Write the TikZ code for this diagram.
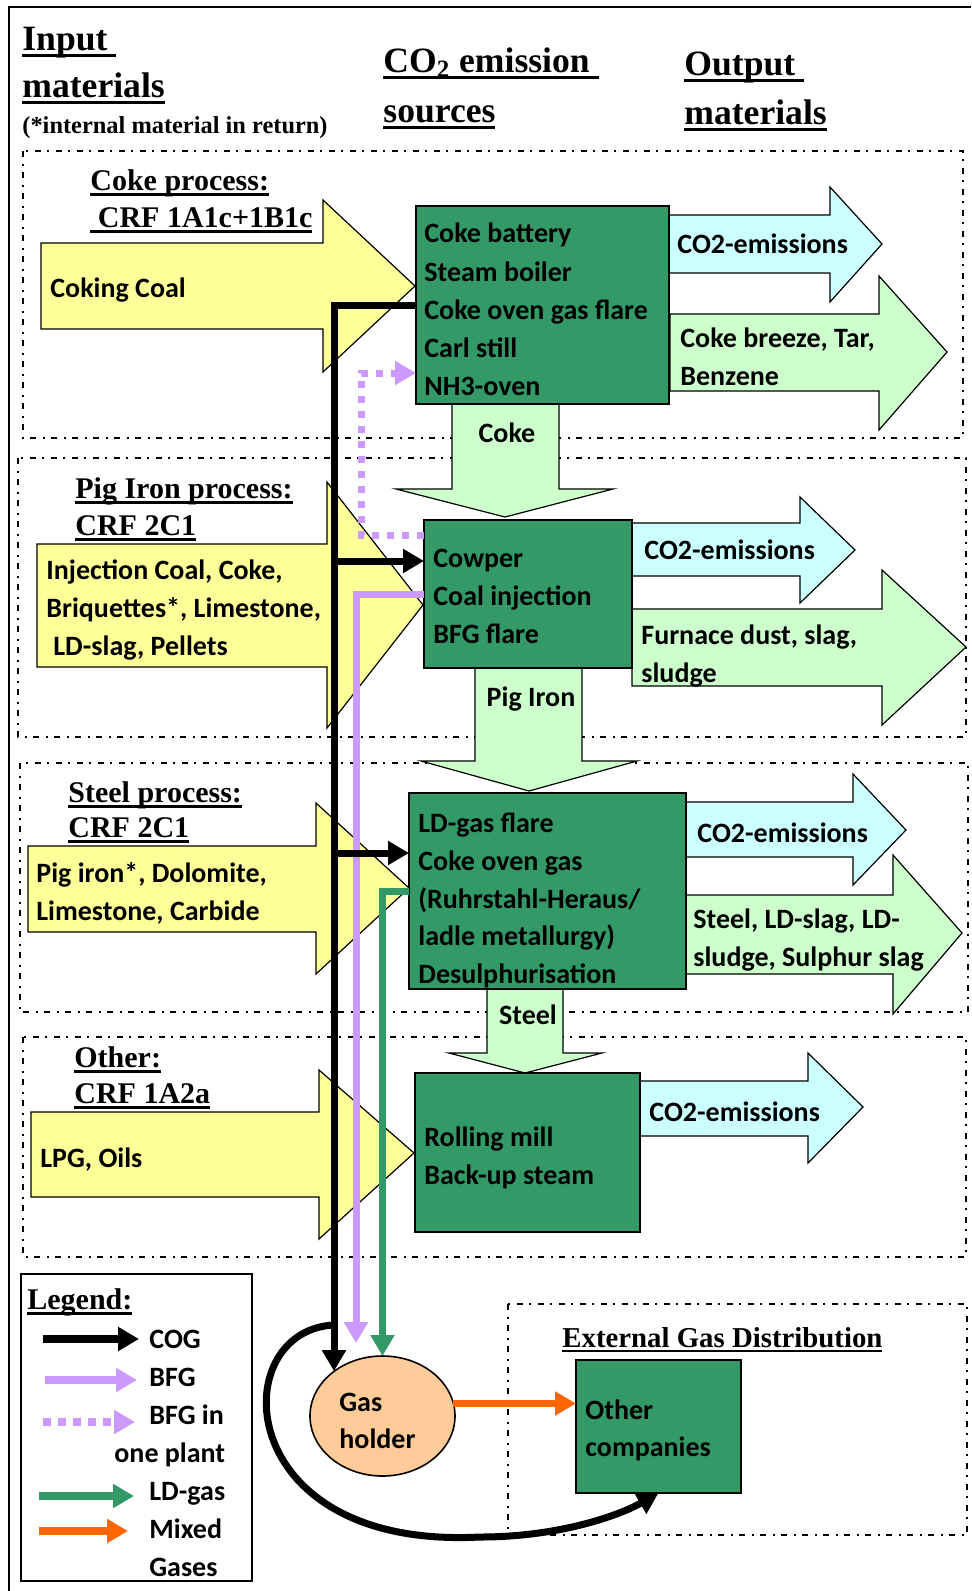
\documentclass[tikz,border=0pt]{standalone}
\usepackage{fontspec}
\setmainfont{Liberation Serif}
\newfontfamily\calfont{Carlito}
\usetikzlibrary{arrows.meta,shapes.geometric,calc}
\definecolor{yelc}{HTML}{FFFF99}
\definecolor{cyac}{HTML}{CCFFFF}
\definecolor{lgrc}{HTML}{CCFFCC}
\definecolor{boxg}{HTML}{339966}
\definecolor{peach}{HTML}{FFCC99}
\definecolor{purp}{HTML}{CC99FF}
\definecolor{ldg}{HTML}{339966}
\definecolor{orng}{HTML}{FF6600}
\newcommand\ulx[1]{\setbox0=\hbox{#1}\rlap{\rule[-0.19em]{\wd0}{0.085em}}\box0}
\newcommand\myrarrow[9]{\draw[#1] (#2,#3) -- (#5,#3) -- (#5,#6) -- (#8,#9) -- (#5,#7) -- (#5,#4) -- (#2,#4) -- cycle;}
\newcommand\mydarrow[9]{\draw[#1] (#2,#4) -- (#2,#5) -- (#6,#5) -- (#8,#9) -- (#7,#5) -- (#3,#5) -- (#3,#4) -- cycle;}
\begin{document}
\begin{tikzpicture}[x=0.5pt,y=-0.5pt,
 ddbox/.style={draw, line width=0.65pt, dash pattern=on 3pt off 3.5pt on 1pt off 3pt},
 blk/.style={draw=black, line width=0.6pt, line join=miter},
 yel/.style={blk, fill=yelc},
 cya/.style={blk, fill=cyac},
 lgr/.style={blk, fill=lgrc},
 gbox/.style={draw=black, line width=1pt, fill=boxg, rectangle, inner sep=0, outer sep=0},
 hdr/.style={anchor=base west, inner sep=0, font=\fontsize{17.8}{20}\selectfont\bfseries},
 sec/.style={anchor=base west, inner sep=0, font=\fontsize{15}{17}\selectfont\bfseries},
 lbl/.style={anchor=base west, inner sep=0, font=\calfont\bfseries\fontsize{14}{16}\selectfont},
 clbl/.style={lbl, anchor=base},
 mytip/.style={-{Triangle[length=10.5pt,width=11.5pt]}},
 cog/.style={draw=black, line width=3.5pt},
 bfg/.style={draw=purp, line width=3.5pt},
 bfgdot/.style={draw=purp, line width=3.5pt, dash pattern=on 3.5pt off 4pt},
 ldgas/.style={draw=ldg, line width=3.5pt},
 mixg/.style={draw=orng, line width=3.5pt},
 lgw/.style={line width=4pt}
]
\useasboundingbox (0,0) rectangle (971,1591);
\fill[white] (0,0) rectangle (971,1591);
% outer frame
\draw[line width=0.8pt] (9,1591) -- (9,7) -- (971,7);
% dash-dot regions
\draw[ddbox] (23,151) rectangle (963,438);
\draw[ddbox] (18,458) rectangle (966,737);
\draw[ddbox] (20,763) rectangle (968,1012);
\draw[ddbox] (23,1037) rectangle (966,1257);
\draw[ddbox] (508,1304) rectangle (967,1535);
% yellow input arrows
\myrarrow{yel}{41}{243}{329}{323}{200}{372}{415}{286}
\myrarrow{yel}{37}{544}{667}{327}{482}{728}{423}{605}
\myrarrow{yel}{28}{846}{932}{316}{803}{974}{409}{888}
\myrarrow{yel}{31}{1112}{1197}{319}{1070}{1239}{414}{1153}
% output arrows
\myrarrow{cya}{669}{215}{273}{830}{187}{302}{882}{244}
\myrarrow{lgr}{670}{314}{391}{879}{276}{430}{947}{352}
\myrarrow{cya}{632}{523}{576}{800}{497}{603}{855}{550}
\myrarrow{lgr}{632}{609}{686}{882}{570}{725}{966}{647}
\myrarrow{cya}{686}{802}{857}{853}{774}{885}{906}{830}
\myrarrow{lgr}{686}{895}{974}{893}{855}{1014}{962}{933}
\myrarrow{cya}{640}{1081}{1136}{808}{1053}{1163}{863}{1107}
% down arrows
\mydarrow{lgr}{452}{559}{404}{489}{396}{613}{505}{517}
\mydarrow{lgr}{475}{582}{668}{761}{421}{637}{529}{791}
\mydarrow{lgr}{487}{563}{989}{1053}{449}{602}{525}{1073}
% process boxes
\node[gbox, minimum width=126.5pt, minimum height=99pt] (coke) at (542.5,305) {};
\node[gbox, minimum width=104pt, minimum height=74pt] (pig) at (528,594) {};
\node[gbox, minimum width=138.5pt, minimum height=98pt] (steel) at (547.5,891) {};
\node[gbox, minimum width=112.5pt, minimum height=79.5pt] (roll) at (527.5,1152.5) {};
\node[gbox, minimum width=82.5pt, minimum height=66.5pt] (oc) at (658.5,1426.5) {};
\node[ellipse, draw=black, line width=0.8pt, fill=peach, minimum width=72.5pt, minimum height=60pt, inner sep=0, outer sep=0] (gh) at (382.5,1416) {};
% legend frame
\node[draw, line width=1pt, minimum width=115.5pt, minimum height=153.5pt, inner sep=0, outer sep=0] (legend) at (136.5,1427.5) {};
% coordinates for connectors
\coordinate (cogtop) at (334,305);
\coordinate (cogP) at (334,561);
\coordinate (cogS) at (334,853);
\coordinate (cogC) at (334,1325);
\coordinate (curveB) at (480,1537);
\coordinate (bfgend) at (356,1343);
\coordinate (dotS) at ($(pig.north west)+(0,15)$);
\coordinate (dotE) at ($(coke.south west)+(0,-31)$);
% BFG dotted (within one plant)
\draw[bfgdot, mytip] (dotS) -- ++(-63,0) |- (dotE);
% BFG
\draw[bfg, mytip] (pig.west) -| (bfgend);
% LD gas
\draw[ldgas, mytip] (steel.west) -| (gh.north);
% COG
\draw[cog, mytip] (coke.west) -- (cogtop) -- (cogtop |- gh.137);
\draw[cog, mytip] (cogP) -- (cogP -| pig.west);
\draw[cog, mytip] (cogS) -- (cogS -| steel.west);
\draw[cog, mytip] (cogC) .. controls (225,1330) and (230,1550) .. (curveB) .. controls (560,1537) and (620,1515) .. (oc.south);
% mixed gases
\draw[mixg, mytip] (gh.10) -- (gh.10 -| oc.west);
% legend arrows
\coordinate (la1) at (43,1339); \coordinate (lb1) at (139,1339);
\coordinate (la2) at (45,1380); \coordinate (lb2) at (137,1380);
\coordinate (la3) at (43,1422); \coordinate (lb3) at (135,1422);
\coordinate (la4) at (39,1496); \coordinate (lb4) at (134,1496);
\coordinate (la5) at (39,1531); \coordinate (lb5) at (128,1531);
\draw[cog, lgw, mytip] (la1) -- (lb1);
\draw[bfg, lgw, mytip] (la2) -- (lb2);
\draw[bfgdot, lgw, dash pattern=on 4pt off 3.5pt, mytip] (la3) -- (lb3);
\draw[ldgas, lgw, mytip] (la4) -- (lb4);
\draw[mixg, lgw, mytip] (la5) -- (lb5);
% headers
\node[hdr] (h1a) at (22,50) {\ulx{Input\ }};
\node[hdr] (h1b) at (22,97) {\ulx{materials}};
\node[anchor=base west, inner sep=0, font=\fontsize{12.2}{14}\selectfont\bfseries] (h1c) at (22,133) {(*internal material in return)};
\node[hdr] (h2a) at (383,72) {\ulx{CO\textsubscript{2} emission\ }};
\node[hdr] (h2b) at (383,122) {\ulx{sources}};
\node[hdr] (h3a) at (684,75) {\ulx{Output\ }};
\node[hdr] (h3b) at (684,124) {\ulx{materials}};
% section titles
\node[sec] (s1a) at (90,190) {\ulx{Coke process:}};
\node[sec] (s1b) at (90,227) {\ulx{\ CRF 1A1c+1B1c}};
\node[sec] (s2a) at (75,498) {\ulx{Pig Iron process:}};
\node[sec] (s2b) at (75,535) {\ulx{CRF 2C1}};
\node[sec] (s3a) at (68,802) {\ulx{Steel process:}};
\node[sec] (s3b) at (68,837) {\ulx{CRF 2C1}};
\node[sec] (s4a) at (74,1067) {\ulx{Other:}};
\node[sec] (s4b) at (74,1103) {\ulx{CRF 1A2a}};
\node[sec, font=\fontsize{14.4}{17}\selectfont\bfseries] (s5) at (562,1347) {\ulx{External Gas Distribution}};
\node[sec] (lgt) at (27,1309) {\ulx{Legend:}};
% input texts
\node[lbl] (in1) at (50,297) {Coking Coal};
\node[lbl] (in2a) at (46,579) {Injection Coal, Coke,};
\node[lbl] (in2b) at (46,617) {Briquettes*, Limestone,};
\node[lbl] (in2c) at (53,655) {LD-slag, Pellets};
\node[lbl] (in3a) at (36,882) {Pig iron*, Dolomite,};
\node[lbl] (in3b) at (36,920) {Limestone, Carbide};
\node[lbl] (in4) at (40,1167) {LPG, Oils};
% box texts
\node[lbl] (c1) at (424,242) {Coke battery};
\node[lbl] (c2) at (424,281) {Steam boiler};
\node[lbl] (c3) at (424,319) {Coke oven gas flare};
\node[lbl] (c4) at (424,357) {Carl still};
\node[lbl] (c5) at (424,395) {NH3-oven};
\node[lbl] (p1) at (433,567) {Cowper};
\node[lbl] (p2) at (433,605) {Coal injection};
\node[lbl] (p3) at (433,643) {BFG flare};
\node[lbl] (t1) at (418,832) {LD-gas flare};
\node[lbl] (t2) at (418,870) {Coke oven gas};
\node[lbl] (t3) at (418,908) {(Ruhrstahl-Heraus/};
\node[lbl] (t4) at (418,945) {ladle metallurgy)};
\node[lbl] (t5) at (418,983) {Desulphurisation};
\node[lbl] (r1) at (424,1146) {Rolling mill};
\node[lbl] (r2) at (424,1184) {Back-up steam};
\node[lbl] (g1) at (339,1411) {Gas};
\node[lbl] (g2) at (339,1448) {holder};
\node[lbl] (o1) at (585,1419) {Other};
\node[lbl] (o2) at (585,1456) {companies};
% output texts
\node[lbl] (e1) at (677,253) {CO2-emissions};
\node[lbl] (b1a) at (680,347) {Coke breeze, Tar,};
\node[lbl] (b1b) at (680,385) {Benzene};
\node[lbl] (e2) at (644,559) {CO2-emissions};
\node[lbl] (b2a) at (641,644) {Furnace dust, slag,};
\node[lbl] (b2b) at (641,682) {sludge};
\node[lbl] (e3) at (697,842) {CO2-emissions};
\node[lbl] (b3a) at (693,928) {Steel, LD-slag, LD-};
\node[lbl] (b3b) at (693,966) {sludge, Sulphur slag};
\node[lbl] (e4) at (649,1121) {CO2-emissions};
% flow labels
\node[clbl] (fl1) at (507,442) {Coke};
\node[clbl] (fl2) at (531,706) {Pig Iron};
\node[clbl] (fl3) at (528,1024) {Steel};
% legend texts
\node[lbl] (lg1) at (149,1348) {COG};
\node[lbl] (lg2) at (149,1386) {BFG};
\node[lbl] (lg3) at (149,1424) {BFG in};
\node[lbl] (lg3b) at (114,1462) {one plant};
\node[lbl] (lg4) at (149,1500) {LD-gas};
\node[lbl] (lg5) at (149,1538) {Mixed};
\node[lbl] (lg5b) at (149,1576) {Gases};
\end{tikzpicture}
\end{document}
